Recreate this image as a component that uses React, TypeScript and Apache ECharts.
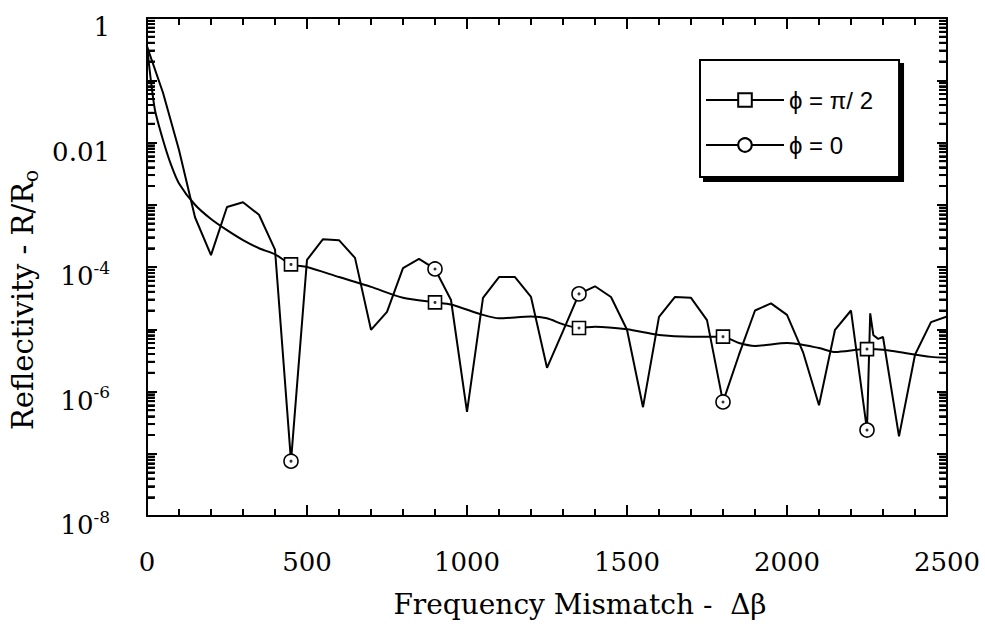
import React, { useEffect, useRef } from 'react';
import * as echarts from 'echarts';

// ---- axis ranges and tick labels ----
const xMin = 0;
const xMax = 2500;
const xInterval = 500;
const xTickLabels = ['0', '500', '1000', '1500', '2000', '2500'];
const yMin = 1e-8;
const yMax = 1;
const yLabelExponents = [0, -2, -4, -6, -8];
const yLabelBase = ['1', '0.01', '10', '10', '10'];
const yLabelSup = ['', '', '-4', '-6', '-8'];
const minorDecades = [-8, -7, -6, -5, -4, -3, -2, -1];
const minorMultipliers = [2, 3, 4, 5, 6, 7, 8, 9];
const minorTickSpan = 24; // length of a log minor tick, in x-axis units

// ---- series: phi = pi/2 (squares, smooth decay) ----
const halfName = 'ϕ = π/ 2';
const halfX = [0, 12, 25, 50, 75, 100, 150, 200, 250, 300, 350, 400, 450, 500, 600, 700, 800, 900, 950, 1050, 1100, 1200, 1250, 1300, 1350, 1400, 1500, 1600, 1700, 1800, 1850, 1900, 2000, 2100, 2150, 2250, 2300, 2350, 2450, 2500];
const halfY = [0.35, 0.1, 0.033, 0.011, 4.4e-3, 2.2e-3, 1.0e-3, 5.9e-4, 3.9e-4, 2.7e-4, 2.0e-4, 1.6e-4, 1.1e-4, 1.0e-4, 6.9e-5, 4.8e-5, 3.2e-5, 2.7e-5, 2.5e-5, 1.7e-5, 1.5e-5, 1.6e-5, 1.5e-5, 1.2e-5, 1.05e-5, 1.1e-5, 1.0e-5, 8.1e-6, 7.6e-6, 7.6e-6, 6.0e-6, 5.4e-6, 6.0e-6, 5.0e-6, 4.3e-6, 4.8e-6, 4.7e-6, 4.3e-6, 3.6e-6, 3.5e-6];

// ---- series: phi = 0 (circles, oscillating) ----
const zeroName = 'ϕ = 0';
const zeroX = [0, 50, 100, 150, 200, 250, 300, 350, 400, 450, 500, 550, 600, 650, 700, 750, 800, 850, 900, 950, 1000, 1050, 1100, 1150, 1200, 1250, 1300, 1350, 1400, 1450, 1500, 1550, 1600, 1650, 1700, 1750, 1800, 1850, 1900, 1950, 2000, 2050, 2100, 2150, 2200, 2250, 2260, 2270, 2285, 2300, 2350, 2400, 2450, 2500];
const zeroY = [0.35, 0.063, 7.6e-3, 6.3e-4, 1.55e-4, 9.2e-4, 1.1e-3, 6.9e-4, 1.9e-4, 7.6e-8, 1.3e-4, 2.8e-4, 2.7e-4, 1.4e-4, 9.8e-6, 1.9e-5, 9.6e-5, 1.35e-4, 9.3e-5, 2.95e-5, 4.7e-7, 3.2e-5, 6.9e-5, 6.9e-5, 3.3e-5, 2.4e-6, 9.3e-6, 3.7e-5, 4.9e-5, 3.3e-5, 9.8e-6, 5.6e-7, 1.58e-5, 3.3e-5, 3.2e-5, 1.4e-5, 6.8e-7, 3.9e-6, 2.0e-5, 2.6e-5, 1.7e-5, 4.3e-6, 6.0e-7, 9.8e-6, 2.0e-5, 2.4e-7, 1.8e-5, 8.0e-6, 7.0e-6, 7.5e-6, 1.9e-7, 3.9e-6, 1.3e-5, 1.6e-5];

// marker positions (x) shared by both series
const markerX = [450, 900, 1350, 1800, 2250];

const serif = 'DejaVu Serif';
const sans = 'Liberation Sans';

export default function App() {
  const ref = useRef<HTMLDivElement>(null);

  useEffect(() => {
    document.body.style.margin = '0';
    if (!ref.current) return;
    const chart = echarts.init(ref.current, undefined, { renderer: 'svg' });

    const toItems = (xs: number[], ys: number[]) =>
      xs.map((x, i) =>
        markerX.includes(x) ? { value: [x, ys[i]] } : { value: [x, ys[i]], symbol: 'none' }
      );
    const markerPts = (xs: number[], ys: number[]) =>
      xs.map((x, i) => [x, ys[i]]).filter((p) => markerX.includes(p[0]));

    const minorValues: number[] = [];
    minorDecades.forEach((d) => minorMultipliers.forEach((m) => minorValues.push(m * Math.pow(10, d))));
    const minorPairs: any[] = [];
    minorValues.forEach((v) => {
      minorPairs.push([{ coord: [xMin, v] }, { coord: [xMin + minorTickSpan, v] }]);
      minorPairs.push([{ coord: [xMax - minorTickSpan, v] }, { coord: [xMax, v] }]);
    });

    const xAxisCommon = {
      type: 'value',
      min: xMin,
      max: xMax,
      interval: xInterval,
      splitLine: { show: false },
      axisLine: { show: true, onZero: false, lineStyle: { color: '#000', width: 2 } },
      axisTick: { show: true, inside: true, length: 11, lineStyle: { color: '#000', width: 2 } },
      minorTick: { show: true, splitNumber: 5, length: 7, lineStyle: { color: '#000', width: 2 } },
      minorSplitLine: { show: false },
    };
    const yAxisCommon = {
      type: 'log',
      logBase: 10,
      min: yMin,
      max: yMax,
      splitLine: { show: false },
      axisLine: { show: true, onZero: false, lineStyle: { color: '#000', width: 2 } },
      axisTick: { show: true, inside: true, length: 10, lineStyle: { color: '#000', width: 2 } },
    };

    chart.setOption({
      animation: false,
      backgroundColor: '#fff',
      grid: { left: 147, top: 18, width: 800, height: 498, containLabel: false },
      legend: {
        data: [halfName, zeroName],
        orient: 'vertical',
        left: 700,
        top: 60,
        itemWidth: 78,
        itemHeight: 17,
        itemGap: 17,
        padding: [26, 26, 18, 5],
        borderColor: '#000',
        borderWidth: 2,
        backgroundColor: '#fff',
        shadowColor: '#000',
        shadowBlur: 0,
        shadowOffsetX: 4,
        shadowOffsetY: 4,
        selectedMode: false,
        textStyle: { fontFamily: sans, fontSize: 24, color: '#000', lineHeight: 28 },
      },
      xAxis: [
        {
          ...xAxisCommon,
          position: 'bottom',
          name: 'Frequency Mismatch -  Δβ',
          nameLocation: 'middle',
          nameGap: 74,
          nameTextStyle: { fontFamily: serif, fontSize: 28, color: '#000', padding: [0, 0, 0, 66] },
          axisLabel: {
            show: true,
            margin: 29,
            fontFamily: serif,
            fontSize: 26,
            color: '#000',
            lineHeight: 34,
            formatter: (v: number) => {
              const i = Math.round((v - xMin) / xInterval);
              return xTickLabels[i] ?? '';
            },
          },
        },
        {
          ...xAxisCommon,
          position: 'top',
          axisLabel: { show: false },
        },
      ],
      yAxis: [
        {
          ...yAxisCommon,
          position: 'left',
          name: '{m|Reflectivity - R/R}{s|o}',
          nameLocation: 'middle',
          nameGap: 74,
          nameRotate: 90,
          nameTextStyle: {
            color: '#000',
            padding: [0, 66, 0, 0],
            rich: {
              m: { fontFamily: serif, fontSize: 29, lineHeight: 36, color: '#000' },
              s: { fontFamily: serif, fontSize: 20, lineHeight: 20, verticalAlign: 'bottom', color: '#000' },
            },
          },
          axisLabel: {
            show: true,
            margin: 37,
            padding: [18, 0, 0, 0],
            formatter: (v: number) => {
              const e = Math.round(Math.log10(v));
              const idx = yLabelExponents.indexOf(e);
              if (idx < 0) return '';
              const sup = yLabelSup[idx];
              return sup ? `{n|${yLabelBase[idx]}}{sup|${sup}}` : `{n|${yLabelBase[idx]}}`;
            },
            rich: {
              n: { fontFamily: serif, fontSize: 26, lineHeight: 34, color: '#000' },
              sup: { fontFamily: serif, fontSize: 17, lineHeight: 17, verticalAlign: 'top', color: '#000' },
            },
          },
        },
        {
          ...yAxisCommon,
          position: 'right',
          axisLabel: { show: false },
        },
      ],
      series: [
        {
          name: halfName,
          type: 'line',
          data: toItems(halfX, halfY),
          symbol: 'rect',
          symbolSize: 13,
          showSymbol: true,
          smooth: 0.25,
          lineStyle: { color: '#000', width: 2 },
          itemStyle: { color: '#fff', borderColor: '#000', borderWidth: 1.6 },
          z: 3,
          markLine: {
            silent: true,
            symbol: ['none', 'none'],
            label: { show: false },
            lineStyle: { color: '#000', width: 2, type: 'solid' },
            data: minorPairs,
          },
        },
        {
          name: zeroName,
          type: 'line',
          data: toItems(zeroX, zeroY),
          symbol: 'circle',
          symbolSize: 14,
          showSymbol: true,
          lineStyle: { color: '#000', width: 2 },
          itemStyle: { color: '#fff', borderColor: '#000', borderWidth: 1.6 },
          z: 3,
        },
        {
          name: 'dots',
          type: 'scatter',
          data: [...markerPts(halfX, halfY), ...markerPts(zeroX, zeroY)],
          symbol: 'circle',
          symbolSize: 3,
          itemStyle: { color: '#000' },
          silent: true,
          z: 5,
        },
      ],
    });

    // same log minor ticks, also placed through the axis scale as graphic lines
    try {
      const ticks: any[] = [];
      minorValues.forEach((v) => {
        const pl = chart.convertToPixel({ xAxisIndex: 0, yAxisIndex: 0 }, [xMin, v]) as number[];
        const pr = chart.convertToPixel({ xAxisIndex: 0, yAxisIndex: 0 }, [xMax, v]) as number[];
        if (!pl || !pr || !isFinite(pl[1]) || !isFinite(pr[1])) return;
        ticks.push({
          type: 'line',
          silent: true,
          z: 10,
          shape: { x1: pl[0], y1: pl[1], x2: pl[0] + 8, y2: pl[1] },
          style: { stroke: '#000', lineWidth: 2 },
        });
        ticks.push({
          type: 'line',
          silent: true,
          z: 10,
          shape: { x1: pr[0], y1: pr[1], x2: pr[0] - 8, y2: pr[1] },
          style: { stroke: '#000', lineWidth: 2 },
        });
      });
      chart.setOption({ graphic: ticks });
    } catch (e) {
      // ignore
    }

    return () => chart.dispose();
  }, []);

  return <div ref={ref} style={{ width: 985, height: 628 }} />;
}
